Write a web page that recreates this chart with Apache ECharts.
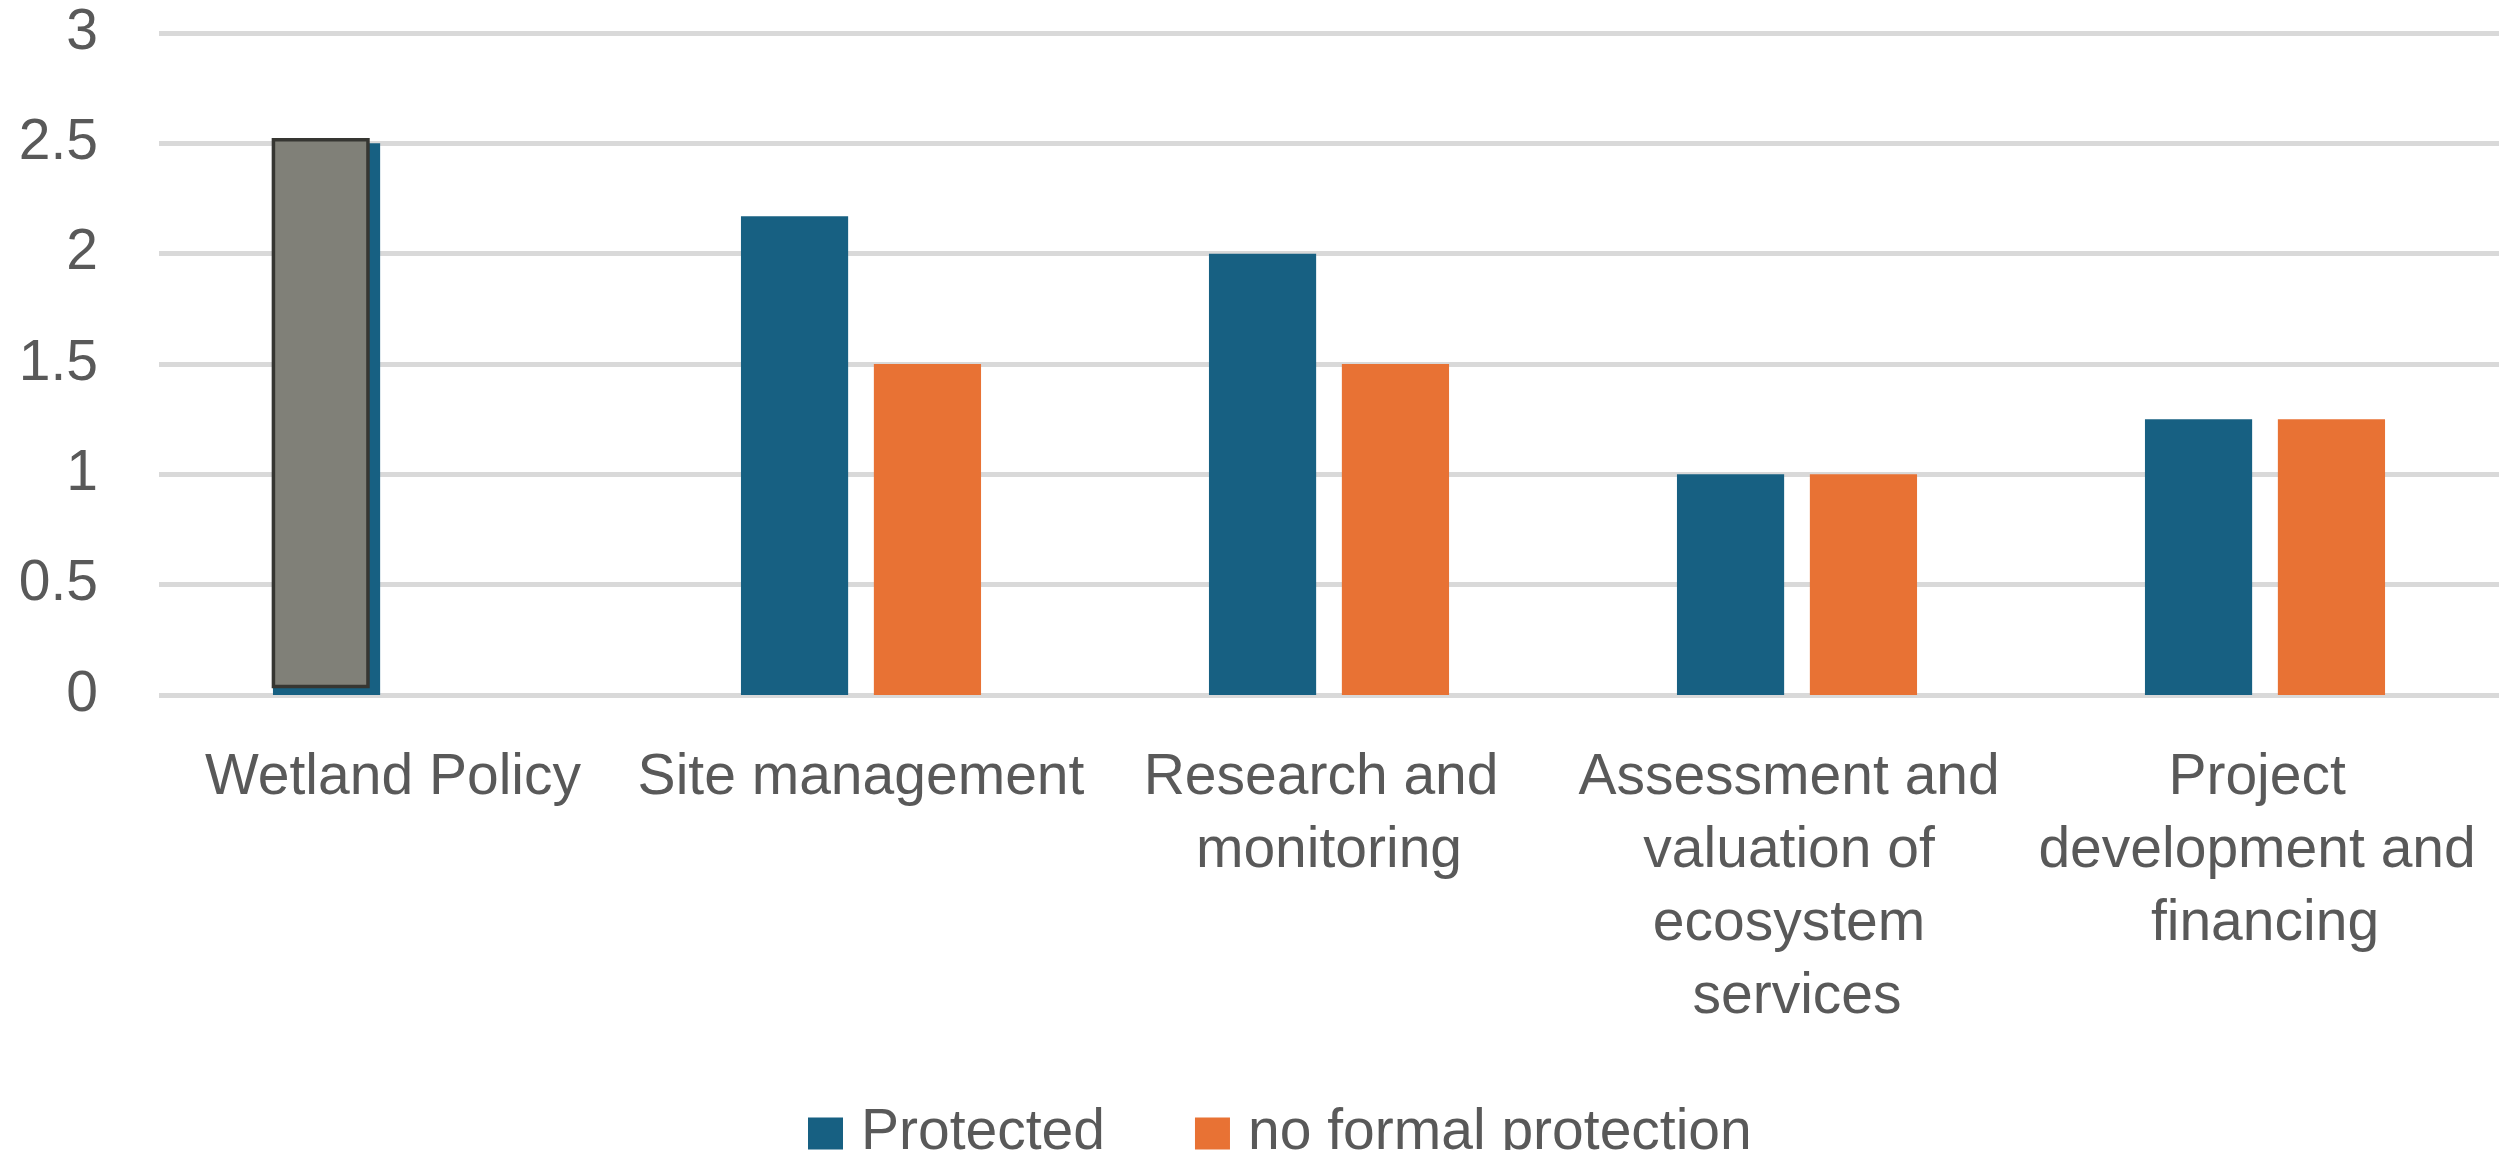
<!DOCTYPE html>
<html>
<head>
<meta charset="utf-8">
<script src="https://cdn.jsdelivr.net/npm/echarts@6/dist/echarts.min.js"></script>
<style>
html,body{margin:0;padding:0;background:#fff;}
#chart{width:2504px;height:1150px;}
</style>
</head>
<body>
<div id="chart"></div>
<script>
const categories = ['Wetland Policy', 'Site management', 'Research and monitoring', 'Assessment and valuation of ecosystem services', 'Project development and financing'];
const protectedValues = [2.5, 2.17, 2, 1, 1.25];
const noFormalValues = [0, 1.5, 1.5, 1, 1.25];
const seriesNames = ['Protected', 'no formal protection'];
const yTicks = { min: 0, max: 3, interval: 0.5 };
// grey box overlaid on the first bar in the reference
const overlayData = [[0, 2.5]];

const FONT = '"Liberation Sans", Arial, sans-serif';
const TEXT = '#595959';

const chart = echarts.init(document.getElementById('chart'), null, { renderer: 'canvas' });
chart.setOption({
  animation: false,
  backgroundColor: '#ffffff',
  grid: { left: 159, right: 5, top: 33, bottom: 455, containLabel: false },
  legend: {
    data: seriesNames,
    left: 803,
    top: 1100,
    itemWidth: 35,
    itemHeight: 32,
    itemGap: 90,
    icon: 'rect',
    textStyle: { fontFamily: FONT, fontSize: 57, color: TEXT, padding: [0, 0, 0, 13] }
  },
  xAxis: {
    type: 'category',
    data: categories,
    axisLine: { show: false },
    axisTick: { show: false },
    axisLabel: {
      interval: 0,
      margin: 47,
      fontFamily: FONT,
      fontSize: 57,
      color: TEXT,
      lineHeight: 73,
      width: 455,
      overflow: 'break',
      align: 'center'
    }
  },
  yAxis: {
    type: 'value',
    min: yTicks.min,
    max: yTicks.max,
    interval: yTicks.interval,
    axisLine: { show: false },
    axisTick: { show: false },
    axisLabel: { fontFamily: FONT, fontSize: 57, color: TEXT, margin: 61 },
    splitLine: { lineStyle: { color: '#D9D9D9', width: 5 } }
  },
  series: [
    {
      name: seriesNames[0],
      type: 'bar',
      data: protectedValues,
      itemStyle: { color: '#176082' },
      barGap: '24%',
      barCategoryGap: '48.7%'
    },
    {
      name: seriesNames[1],
      type: 'bar',
      data: noFormalValues,
      itemStyle: { color: '#E87234' }
    },
    {
      type: 'custom',
      z: 5,
      data: overlayData,
      renderItem: function (params, api) {
        const top = api.coord([api.value(0), api.value(1)]);
        const base = api.coord([api.value(0), 0]);
        const bw = api.size([1, 0])[0];
        const x = top[0] - bw * 0.2555;
        const w = bw * 0.202;
        const y = top[1] - 3.5;
        const h = (base[1] - 8.5) - y;
        return {
          type: 'rect',
          shape: { x: x, y: y, width: w, height: h },
          style: { fill: '#808078', stroke: '#363632', lineWidth: 3.5 }
        };
      }
    }
  ]
});
</script>
</body>
</html>
